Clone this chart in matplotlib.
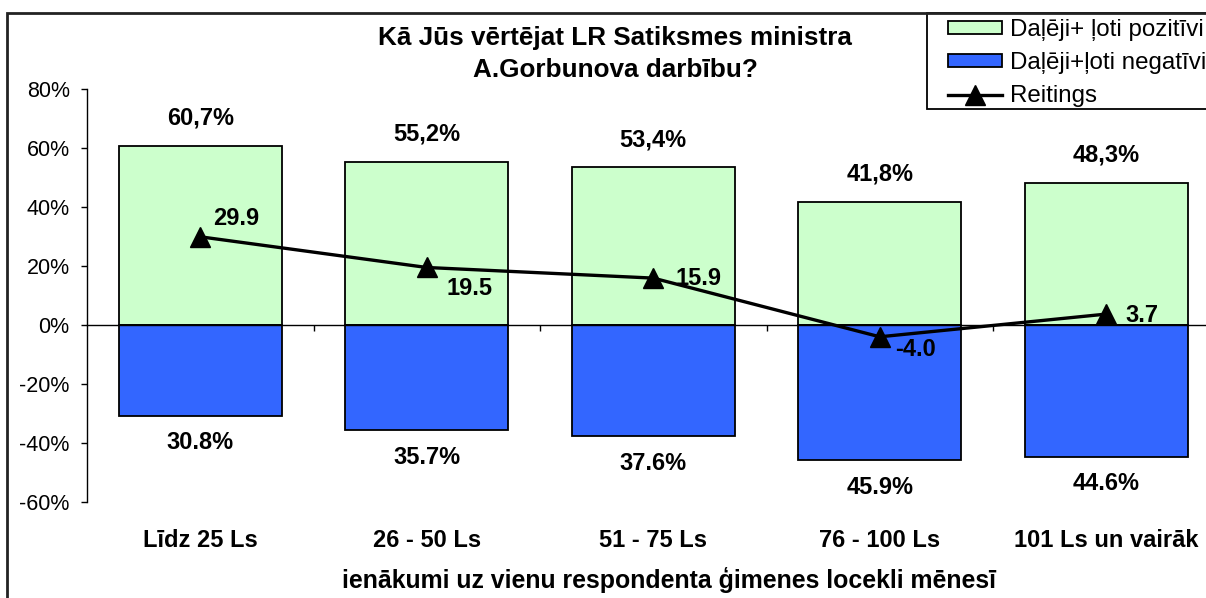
#!/usr/bin/env python
# -*- coding: utf-8 -*-
"""
# Ministra darbības vērtējums pēc ienākumiem

Stacked positive / negative bars with the rating line on top.
"""

import matplotlib
matplotlib.use('Agg')
import matplotlib.pyplot as plt
from matplotlib.patches import Patch, Rectangle
from matplotlib.lines import Line2D
from matplotlib.ticker import FixedLocator
import numpy as np

# =============================================================================
# Define variables
# =============================================================================
categories = ['Līdz 25 Ls', '26 - 50 Ls', '51 - 75 Ls', '76 - 100 Ls',
              '101 Ls un vairāk']
positive = [60.7, 55.2, 53.4, 41.8, 48.3]
negative = [30.8, 35.7, 37.6, 45.9, 44.6]
rating = [29.9, 19.5, 15.9, -4.0, 3.7]

yticks = [80, 60, 40, 20, 0, -20, -40, -60]

# label offsets for the rating values (points)
rating_offsets = [(9, 13), (14, -15), (16, 0), (11, -9), (14, -1)]

GREEN = '#CCFFCC'
BLUE = '#3366FF'
FONT = 'Liberation Sans'

W, H = 1206, 598

# =============================================================================
# Start of code
# =============================================================================
if __name__ == "__main__":
    plt.rcParams['font.family'] = [FONT, 'DejaVu Sans']

    fig = plt.figure(figsize=(W / 100, H / 100), dpi=100)
    ax = fig.add_axes([87 / W, 1 - 502 / H, (1219.5 - 87) / W, 413 / H])

    x = np.arange(len(categories))
    neg = -np.array(negative)

    # bars
    ax.bar(x, positive, width=0.72, color=GREEN, edgecolor='black',
           linewidth=1.3, zorder=2)
    ax.bar(x, neg, width=0.72, color=BLUE, edgecolor='black',
           linewidth=1.3, zorder=2)

    # rating line
    ax.plot(x, rating, color='black', linewidth=2.4, marker='^',
            markersize=15, zorder=4)

    # bar value labels
    for xi, p, n in zip(x, positive, negative):
        ax.annotate('{0:.1f}%'.format(p).replace('.', ','), (xi, p),
                    xytext=(0, 20), textcoords='offset points',
                    ha='center', va='center', fontsize=17,
                    fontweight='bold')
        ax.annotate('{0:.1f}%'.format(n), (xi, -n),
                    xytext=(0, -19.5), textcoords='offset points',
                    ha='center', va='center', fontsize=17,
                    fontweight='bold')

    # rating labels
    for xi, r, off in zip(x, rating, rating_offsets):
        ax.annotate('{0:.1f}'.format(r), (xi, r), xytext=off,
                    textcoords='offset points', ha='left', va='center',
                    fontsize=17, fontweight='bold', zorder=5)

    # axes
    ax.set_xlim(-0.5, len(categories) - 0.5)
    ax.set_ylim(-60, 80)
    ax.set_yticks(yticks)
    ax.set_yticklabels(['{0}%'.format(t) for t in yticks])
    ax.tick_params(axis='y', direction='out', length=4.5, width=1,
                   pad=8, labelsize=15.5)
    for side in ['top', 'right']:
        ax.spines[side].set_visible(False)
    ax.spines['left'].set_linewidth(1)
    ax.spines['bottom'].set_position(('data', 0))
    ax.spines['bottom'].set_linewidth(1)
    ax.xaxis.set_major_locator(FixedLocator(x[:-1] + 0.5))
    ax.tick_params(axis='x', direction='out', length=4.5, width=1,
                   labelbottom=False)

    # category names
    for xi, cat in zip(x, categories):
        ax.text(xi, -0.094, cat, transform=ax.get_xaxis_transform(),
                ha='center', va='center', fontsize=17, fontweight='bold')

    fig.text(669 / W, 1 - 580 / H,
             'ienākumi uz vienu respondenta ģimenes locekli mēnesī',
             ha='center', va='center', fontsize=17.9, fontweight='bold')

    fig.text(615 / W, 1 - 54 / H,
             'Kā Jūs vērtējat LR Satiksmes ministra\nA.Gorbunova darbību?',
             ha='center', va='center', fontsize=18.8, fontweight='bold',
             linespacing=1.4)

    # legend (frame drawn separately, it runs past the right edge)
    handles = [Patch(facecolor=GREEN, edgecolor='black', linewidth=1.3),
               Patch(facecolor=BLUE, edgecolor='black', linewidth=1.3),
               Line2D([], [], color='black', linewidth=2.4, marker='^',
                      markersize=14)]
    labels = ['Daļēji+ ļoti pozitīvi', 'Daļēji+ļoti negatīvi', 'Reitings']
    leg = fig.legend(handles, labels, loc='upper left',
                     bbox_to_anchor=(942 / W, 1 - 13 / H),
                     bbox_transform=fig.transFigure, fontsize=17.4,
                     frameon=False, borderpad=0.25, labelspacing=0.46,
                     handlelength=2.23, handleheight=0.4,
                     handletextpad=0.35, borderaxespad=0)
    fig.add_artist(Rectangle((927 / W, 1 - 109 / H), 0.5, 96 / H,
                             transform=fig.transFigure, facecolor='white',
                             edgecolor='black', linewidth=1.3, zorder=1))
    leg.set_zorder(2)

    # chart border
    fig.add_artist(Rectangle((7 / W, -0.2), 1.5, 1.2 - 13 / H,
                             transform=fig.transFigure, fill=False,
                             edgecolor='#222222', linewidth=2))

    fig.savefig('out.png', dpi=100)
    plt.close()

# =============================================================================
# End of code
# =============================================================================
